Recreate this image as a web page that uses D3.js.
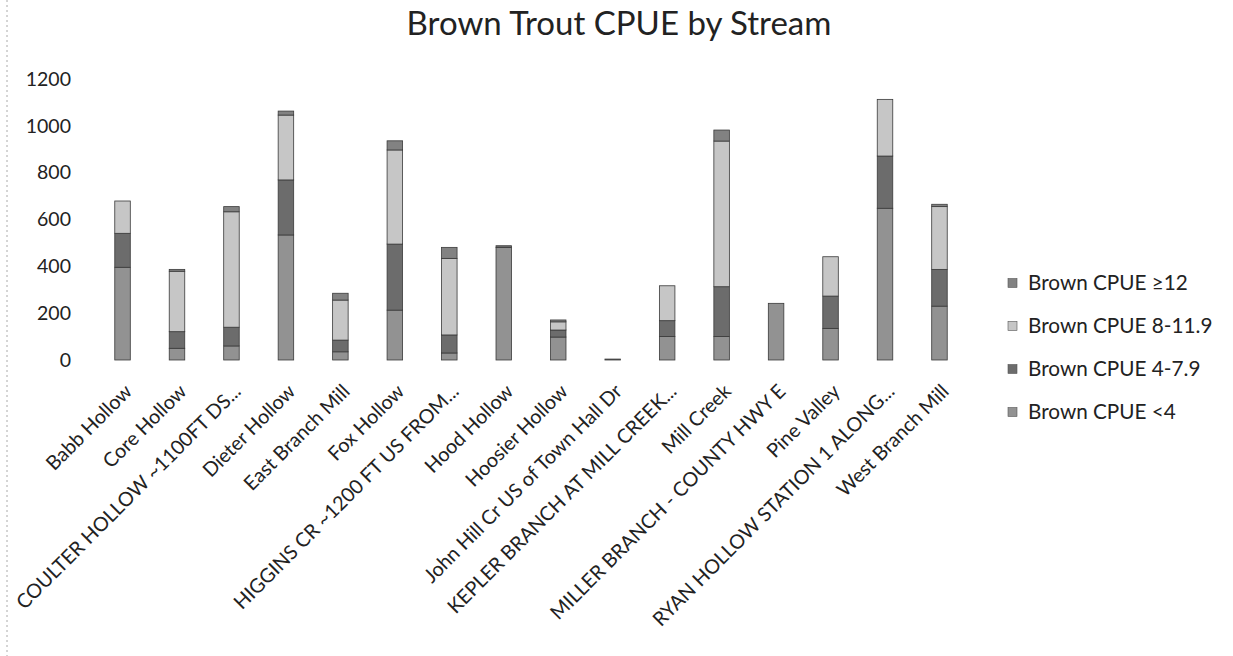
<!DOCTYPE html>
<html>
<head>
<meta charset="utf-8">
<script src="https://cdn.jsdelivr.net/npm/d3@7"></script>
<style>
  html, body { margin: 0; padding: 0; background: #fff; }
  svg { display: block; }
  text { font-family: Lato, "Open Sans", sans-serif; fill: #222; }
</style>
</head>
<body>
<svg id="chart" width="1233" height="656"></svg>
<script>
const categories = [
  "Babb Hollow", "Core Hollow", "COULTER HOLLOW ~1100FT DS...", "Dieter Hollow",
  "East Branch Mill", "Fox Hollow", "HIGGINS CR ~1200 FT US FROM...", "Hood Hollow",
  "Hoosier Hollow", "John Hill Cr US of Town Hall Dr", "KEPLER BRANCH AT MILL CREEK...",
  "Mill Creek", "MILLER BRANCH - COUNTY HWY E", "Pine Valley",
  "RYAN HOLLOW STATION 1 ALONG...", "West Branch Mill"
];
const cpueLt4   = [396, 50, 60, 534, 35, 213, 30, 480, 98, 4, 100, 100, 242, 135, 648, 230];
const cpue4to79 = [145, 71, 80, 235, 50, 282, 77, 8, 30, 0, 68, 213, 0, 138, 223, 157];
const cpue8to119= [138, 258, 493, 277, 171, 402, 327, 0, 35, 0, 149, 622, 0, 168, 242, 268];
const cpueGe12  = [0, 8, 22, 17, 29, 39, 47, 0, 8, 0, 0, 47, 0, 0, 0, 10];
const seriesNames = ["Brown CPUE <4", "Brown CPUE 4-7.9", "Brown CPUE 8-11.9", "Brown CPUE \u226512"];
const yTicks = [0, 200, 400, 600, 800, 1000, 1200];
const title = "Brown Trout CPUE by Stream";

const seriesColors = ["#929292", "#6c6c6c", "#c6c6c6", "#828282"];

const svg = d3.select("#chart");

function fitFont(sel, targetWidth) {
  sel.style("font-size", "20px");
  const w = sel.node().getComputedTextLength();
  const fs = 20 * targetWidth / w;
  sel.style("font-size", fs + "px");
  return fs;
}

// faint scan edge line
svg.append("line")
  .attr("x1", 7).attr("x2", 7).attr("y1", 0).attr("y2", 656)
  .attr("stroke", "#aaa").attr("stroke-width", 1).attr("stroke-dasharray", "2,3");

const rows = categories.map((c, i) => ({
  cat: c,
  [seriesNames[0]]: cpueLt4[i],
  [seriesNames[1]]: cpue4to79[i],
  [seriesNames[2]]: cpue8to119[i],
  [seriesNames[3]]: cpueGe12[i]
}));
const stacked = d3.stack().keys(seriesNames)(rows);

const x = d3.scaleBand().domain(categories).range([95.3, 966.7])
  .paddingInner(0.715).paddingOuter(0.3575);
const y = d3.scaleLinear().domain([0, 1200]).range([360, 79]);

// title
const t = svg.append("text").text(title)
  .attr("x", 619).attr("y", 35).attr("text-anchor", "middle");
fitFont(t, 425);

// y axis
const yAxis = svg.append("g").attr("transform", "translate(79,0)")
  .call(d3.axisLeft(y).tickValues(yTicks).tickSize(0).tickPadding(8).tickFormat(d3.format("d")));
yAxis.select(".domain").remove();
yAxis.selectAll("text").style("font-family", "Lato, 'Open Sans', sans-serif")
  .style("font-size", "19.5px").attr("fill", "#222");

// bars
const layers = svg.append("g").selectAll("g").data(stacked).join("g")
  .attr("fill", (d, i) => seriesColors[i]);
layers.selectAll("rect").data(d => d.filter(p => p[1] - p[0] > 0)).join("rect")
  .attr("x", d => x(d.data.cat))
  .attr("width", x.bandwidth())
  .attr("y", d => y(d[1]))
  .attr("height", d => y(d[0]) - y(d[1]))
  .attr("stroke", "#3a3a3a").attr("stroke-width", 0.8);

// x labels
const probe = svg.append("text").text(categories[2]);
const xfs = fitFont(probe, 308);
probe.remove();
const xl = svg.append("g");
categories.forEach(c => {
  const cx = x(c) + x.bandwidth() / 2;
  xl.append("text").text(c)
    .attr("text-anchor", "end")
    .attr("transform", `translate(${cx + 3},385) rotate(-45)`)
    .attr("dy", "0.55em")
    .style("font-size", xfs + "px");
});

// legend
const legendOrder = [3, 2, 1, 0];
const legendY = [283, 326, 369, 412];
const lg = svg.append("g");
let lfs = null;
legendOrder.forEach((si, k) => {
  lg.append("rect").attr("x", 1008).attr("y", legendY[k] - 4.5)
    .attr("width", 9).attr("height", 9)
    .attr("fill", seriesColors[si]).attr("stroke", "#555").attr("stroke-width", 0.6);
  const tx = lg.append("text").text(seriesNames[si])
    .attr("x", 1028).attr("y", legendY[k]).attr("dy", "0.35em");
  if (lfs === null) lfs = fitFont(tx, 160);
  else tx.style("font-size", lfs + "px");
});
</script>
</body>
</html>
